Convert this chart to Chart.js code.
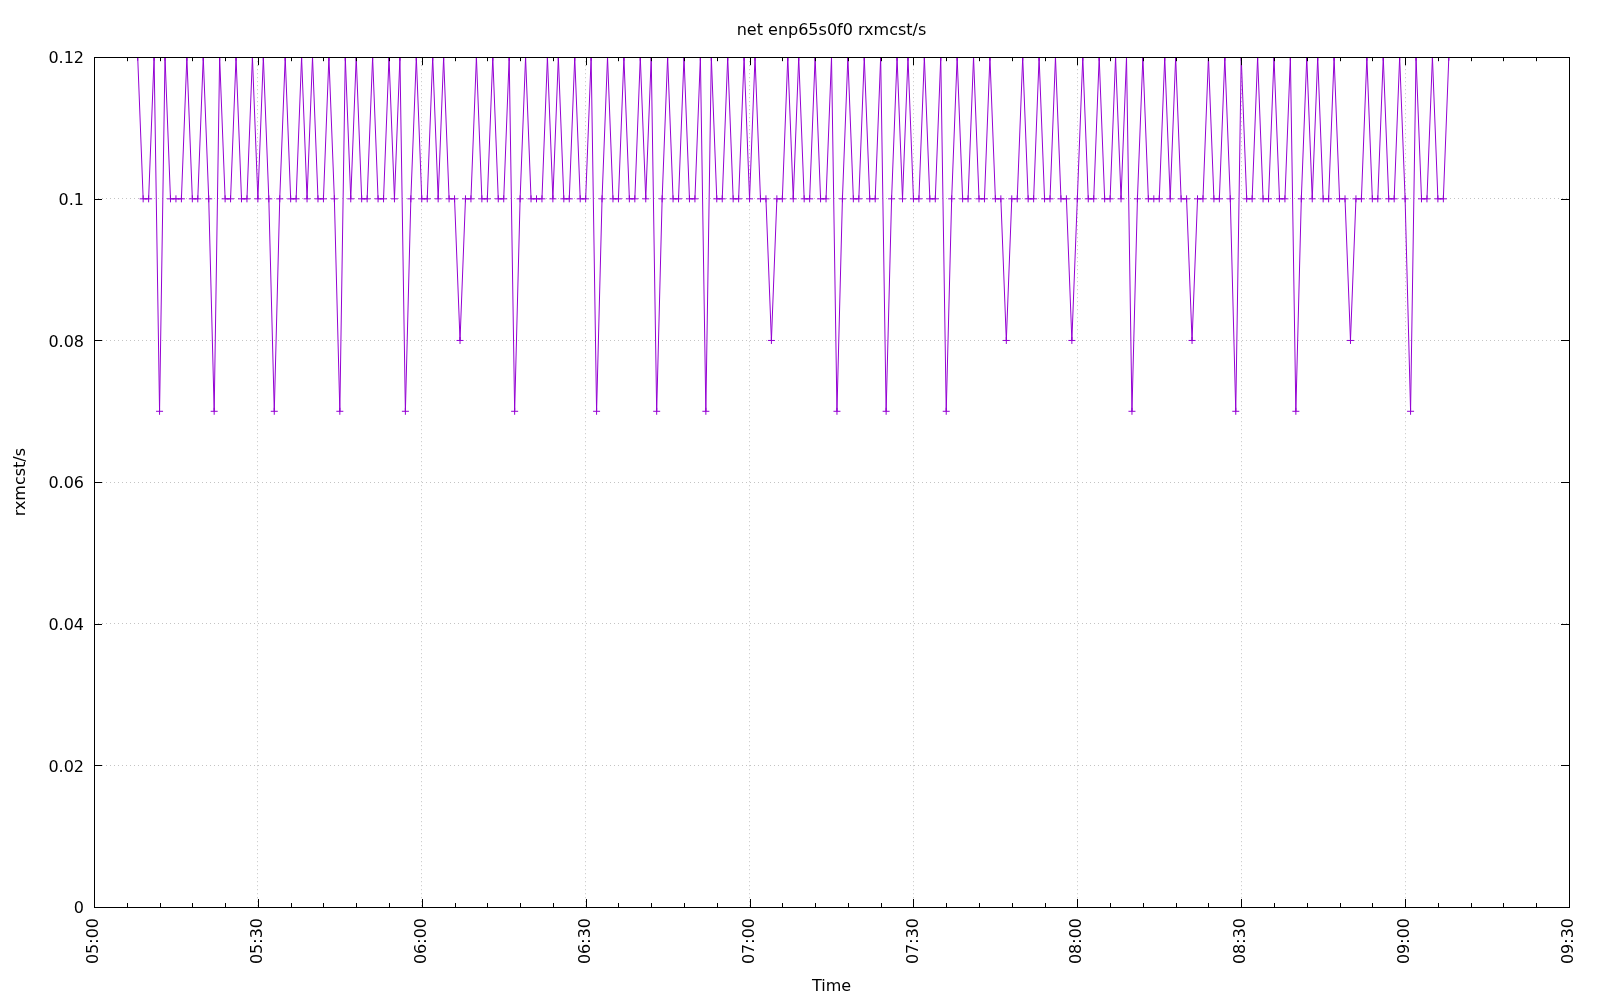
<!DOCTYPE html>
<html>
<head>
<meta charset="utf-8">
<title>net enp65s0f0 rxmcst/s</title>
<script src="https://cdn.jsdelivr.net/npm/chart.js@4.4.1/dist/chart.umd.min.js"></script>
<style>
  html, body { margin: 0; padding: 0; background: #fff; }
  #wrap { width: 1600px; height: 1000px; }
</style>
</head>
<body>
<div id="wrap"><canvas id="sarChart" width="1600" height="1000"></canvas></div>
<script>
// sar -n EDEV style sample, one reading per minute
const chartTitle = 'net enp65s0f0 rxmcst/s';
const yLabel = 'rxmcst/s';
const xLabel = 'Time';
const startTime = '05:08';
const stepMinutes = 1;

const rxmcst = [
  // 05:08 - 05:59
  0.12, 0.1, 0.1, 0.12, 0.07, 0.12, 0.1, 0.1, 0.1, 0.12, 0.1, 0.1,
  0.12, 0.1, 0.07, 0.12, 0.1, 0.1, 0.12, 0.1, 0.1, 0.12, 0.1, 0.12,
  0.1, 0.07, 0.1, 0.12, 0.1, 0.1, 0.12, 0.1, 0.12, 0.1, 0.1, 0.12,
  0.1, 0.07, 0.12, 0.1, 0.12, 0.1, 0.1, 0.12, 0.1, 0.1, 0.12, 0.1,
  0.12, 0.07, 0.1, 0.12,
  // 06:00 - 06:59
  0.1, 0.1, 0.12, 0.1, 0.12, 0.1, 0.1, 0.08, 0.1, 0.1, 0.12, 0.1,
  0.1, 0.12, 0.1, 0.1, 0.12, 0.07, 0.1, 0.12, 0.1, 0.1, 0.1, 0.12,
  0.1, 0.12, 0.1, 0.1, 0.12, 0.1, 0.1, 0.12, 0.07, 0.1, 0.12, 0.1,
  0.1, 0.12, 0.1, 0.1, 0.12, 0.1, 0.12, 0.07, 0.1, 0.12, 0.1, 0.1,
  0.12, 0.1, 0.1, 0.12, 0.07, 0.12, 0.1, 0.1, 0.12, 0.1, 0.1, 0.12,
  // 07:00 - 07:59
  0.1, 0.12, 0.1, 0.1, 0.08, 0.1, 0.1, 0.12, 0.1, 0.12, 0.1, 0.1,
  0.12, 0.1, 0.1, 0.12, 0.07, 0.1, 0.12, 0.1, 0.1, 0.12, 0.1, 0.1,
  0.12, 0.07, 0.1, 0.12, 0.1, 0.12, 0.1, 0.1, 0.12, 0.1, 0.1, 0.12,
  0.07, 0.1, 0.12, 0.1, 0.1, 0.12, 0.1, 0.1, 0.12, 0.1, 0.1, 0.08,
  0.1, 0.1, 0.12, 0.1, 0.1, 0.12, 0.1, 0.1, 0.12, 0.1, 0.1, 0.08,
  // 08:00 - 08:59
  0.1, 0.12, 0.1, 0.1, 0.12, 0.1, 0.1, 0.12, 0.1, 0.12, 0.07, 0.1,
  0.12, 0.1, 0.1, 0.1, 0.12, 0.1, 0.12, 0.1, 0.1, 0.08, 0.1, 0.1,
  0.12, 0.1, 0.1, 0.12, 0.1, 0.07, 0.12, 0.1, 0.1, 0.12, 0.1, 0.1,
  0.12, 0.1, 0.1, 0.12, 0.07, 0.1, 0.12, 0.1, 0.12, 0.1, 0.1, 0.12,
  0.1, 0.1, 0.08, 0.1, 0.1, 0.12, 0.1, 0.1, 0.12, 0.1, 0.1, 0.12,
  // 09:00 - 09:08
  0.1, 0.07, 0.12, 0.1, 0.1, 0.12, 0.1, 0.1, 0.12
];

const xMin = '05:00';
const xMax = '09:30';
const majorMinutes = 30;
const minorMinutes = 6;
const yMax = 0.12;
const yStep = 0.02;

const toMinutes = (hhmm) => {
  const [h, m] = hhmm.split(':').map(Number);
  return h * 60 + m;
};
const toHHMM = (mins) => {
  const h = Math.floor(mins / 60);
  const m = Math.round(mins % 60);
  return String(h).padStart(2, '0') + ':' + String(m).padStart(2, '0');
};

const start = toMinutes(startTime);
const points = rxmcst.map((v, i) => ({ x: start + i * stepMinutes, y: v }));

// gnuplot-like frame: border on all sides, ticks pointing inward, mirrored
const frameTicks = {
  id: 'frameTicks',
  afterDraw(chart) {
    const { ctx, chartArea: a, scales: { x, y } } = chart;
    ctx.save();
    ctx.strokeStyle = '#000';
    ctx.lineWidth = 1;
    ctx.beginPath();
    for (let m = x.min; m <= x.max; m += minorMinutes) {
      const px = Math.round(x.getPixelForValue(m)) + 0.5;
      const len = m % majorMinutes === 0 ? 8 : 4;
      ctx.moveTo(px, a.bottom);
      ctx.lineTo(px, a.bottom - len);
      ctx.moveTo(px, a.top);
      ctx.lineTo(px, a.top + len);
    }
    y.ticks.forEach((t) => {
      const py = Math.round(y.getPixelForValue(t.value)) + 0.5;
      ctx.moveTo(a.left, py);
      ctx.lineTo(a.left + 8, py);
      ctx.moveTo(a.right, py);
      ctx.lineTo(a.right - 8, py);
    });
    ctx.stroke();
    ctx.strokeRect(Math.round(a.left) + 0.5, Math.round(a.top) + 0.5,
      Math.round(a.width), Math.round(a.height));
    ctx.restore();
  },
};

Chart.defaults.font.family = '"DejaVu Sans", sans-serif';
Chart.defaults.font.size = 16;
Chart.defaults.color = '#000';

const gridGray = '#c4c4c4';
const gridStyle = {
  color: gridGray,
  lineWidth: 1,
  drawTicks: false,
};

new Chart(document.getElementById('sarChart'), {
  type: 'line',
  data: {
    datasets: [
      {
        label: yLabel,
        data: points,
        borderColor: '#9400d3',
        backgroundColor: '#9400d3',
        borderWidth: 1,
        tension: 0,
        pointStyle: 'cross',
        pointRadius: 3.5,
        pointBorderWidth: 1,
        pointBorderColor: '#9400d3',
        pointHoverRadius: 3.5,
      },
    ],
  },
  options: {
    responsive: false,
    animation: false,
    events: [],
    layout: { padding: { left: 0, right: 31, top: 0, bottom: 0 } },
    plugins: {
      legend: { display: false },
      tooltip: { enabled: false },
      title: {
        display: true,
        fullSize: false,
        text: chartTitle,
        font: { size: 16, weight: 'normal' },
        padding: { top: 21, bottom: 17 },
      },
    },
    scales: {
      x: {
        type: 'linear',
        min: toMinutes(xMin),
        max: toMinutes(xMax),
        afterFit: (scale) => { scale.height = 93; },
        grid: {
          ...gridStyle,
          color: (c) => (c.tick && c.tick.value % majorMinutes === 0 ? gridGray : 'transparent'),
        },
        border: { display: false, dash: [1, 3] },
        ticks: {
          stepSize: majorMinutes,
          autoSkip: false,
          maxRotation: 90,
          minRotation: 90,
          padding: 11,
          callback: (value) => toHHMM(value),
        },
        title: {
          display: true,
          text: xLabel,
          font: { size: 16 },
          padding: { top: 0, bottom: 4 },
        },
      },
      y: {
        min: 0,
        max: yMax,
        afterFit: (scale) => { scale.width = 94; },
        grid: gridStyle,
        border: { display: false, dash: [1, 3] },
        ticks: {
          stepSize: yStep,
          padding: 10,
          labelOffset: 2,
          callback: (value) => String(parseFloat(value.toFixed(2))),
        },
        title: {
          display: true,
          text: yLabel,
          font: { size: 16 },
          padding: { top: 11, bottom: 0 },
        },
      },
    },
  },
  plugins: [frameTicks],
});
</script>
</body>
</html>
